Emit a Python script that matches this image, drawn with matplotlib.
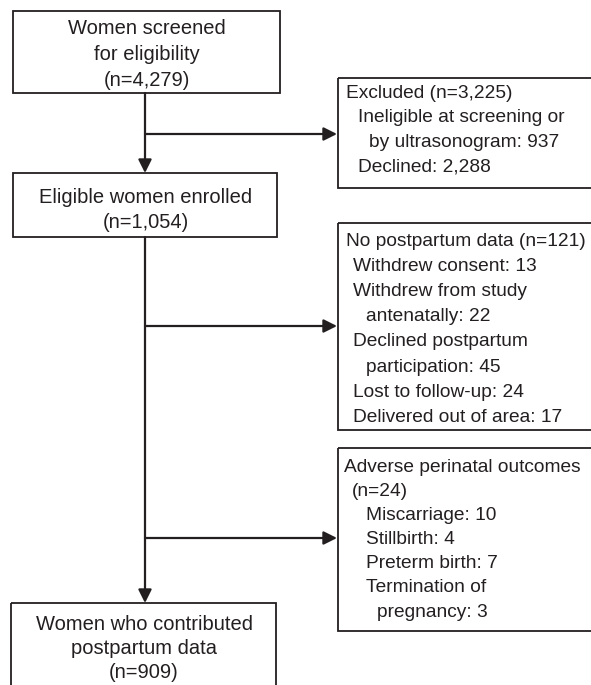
import matplotlib.pyplot as plt
from matplotlib.patches import Rectangle

plt.rcParams['font.family'] = ['Liberation Sans', 'DejaVu Sans']

# Box texts
screened_text = ['Women screened', 'for eligibility', '(n=4,279)']
enrolled_text = ['Eligible women enrolled', '(n=1,054)']
contributed_text = ['Women who contributed', 'postpartum data', '(n=909)']

# Side boxes: (indent level, text)
excluded_text = [(0, 'Excluded (n=3,225)'),
                 (1, 'Ineligible at screening or'),
                 (2, 'by ultrasonogram: 937'),
                 (1, 'Declined: 2,288')]
no_data_text = [(0, 'No postpartum data (n=121)'),
                (1, 'Withdrew consent: 13'),
                (1, 'Withdrew from study'),
                (2, 'antenatally: 22'),
                (1, 'Declined postpartum'),
                (2, 'participation: 45'),
                (1, 'Lost to follow-up: 24'),
                (1, 'Delivered out of area: 17')]
adverse_text = [(0, 'Adverse perinatal outcomes'),
                (1, '(n=24)'),
                (2, 'Miscarriage: 10'),
                (2, 'Stillbirth: 4'),
                (2, 'Preterm birth: 7'),
                (2, 'Termination of'),
                (3, 'pregnancy: 3')]

ink = '#231f20'
fs_main = 14.5
fs_side = 13.8

fig = plt.figure(figsize=(5.91, 6.85), dpi=100)
ax = fig.add_axes([0, 0, 1, 1])
ax.set_xlim(0, 591)
ax.set_ylim(685, 0)
ax.axis('off')


def box(x0, y0, x1, y1):
    ax.add_patch(Rectangle((x0, y0), x1 - x0, y1 - y0, fill=False,
                           edgecolor=ink, lw=1.3, clip_on=True))


def centered(lines, cx, y_first, step):
    for i, s in enumerate(lines):
        ax.text(cx, y_first + i * step, s, ha='center', va='center',
                fontsize=fs_main, color=ink)


def listed(lines, x0, y_first, step, indents):
    for i, (lvl, s) in enumerate(lines):
        ax.text(x0 + indents[lvl], y_first + i * step, s, ha='left',
                va='center', fontsize=fs_side, color=ink)


def arrow(x0, y0, x1, y1):
    ax.annotate('', xy=(x1, y1), xytext=(x0, y0),
                arrowprops=dict(arrowstyle='-|>', color=ink, lw=1.6,
                                mutation_scale=20, shrinkA=0, shrinkB=0))


# main column
box(13, 11, 280, 93)
centered(screened_text, 147, 28, 26)
box(13, 173, 277, 237)
centered(enrolled_text, 146, 197, 25)
box(11, 603, 276, 700)
centered(contributed_text, 144, 625, 24)

cx = 145
arrow(cx, 93, cx, 173)
arrow(cx, 237, cx, 603)

# side boxes
box(338, 78, 600, 188)
listed(excluded_text, 338, 93, 24.7, [8, 20, 31])
arrow(cx, 134, 337, 134)

box(338, 223, 600, 430)
listed(no_data_text, 338, 241, 25.2, [8, 15, 28])
arrow(cx, 326, 337, 326)

box(338, 448, 600, 631)
listed(adverse_text, 338, 467, 24.2, [6, 14, 28, 39])
arrow(cx, 538, 337, 538)

fig.savefig('out.png', dpi=100)
